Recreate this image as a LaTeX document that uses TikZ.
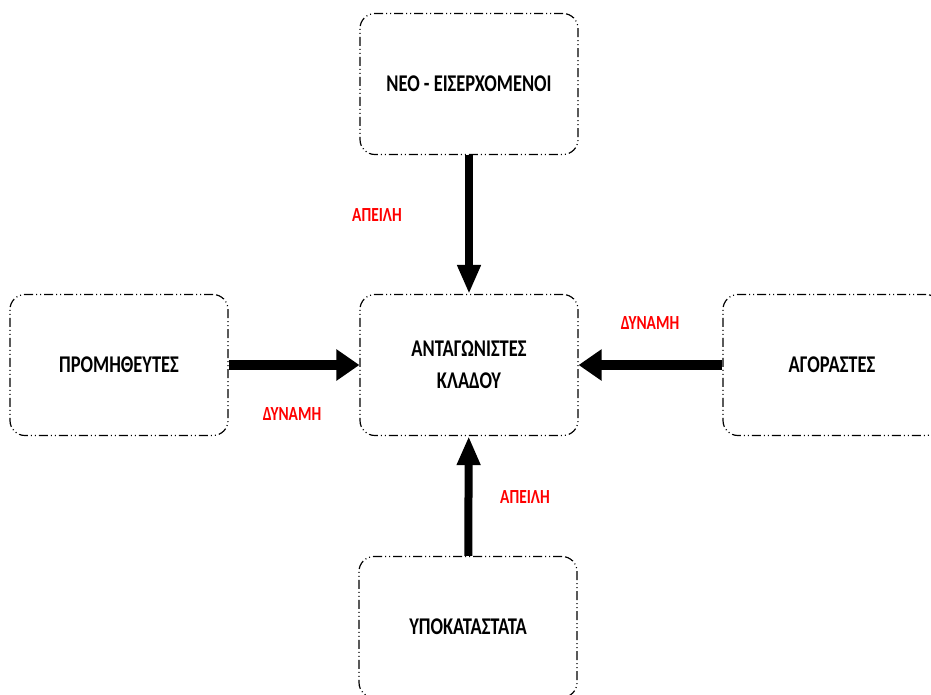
\documentclass[tikz,border=0pt]{standalone}
\usepackage{fontspec}
\setmainfont{Carlito}[FakeStretch=0.77]
\usetikzlibrary{arrows.meta}

\begin{document}
\begin{tikzpicture}[x=1pt,y=-1pt,
    box/.style={draw=black, line width=1.2pt, rounded corners=15pt,
        dash pattern=on 9pt off 3pt on 1pt off 3pt on 1pt off 3pt,
        minimum width=218pt, minimum height=141pt, inner sep=0pt,
        align=center, font=\bfseries\fontsize{24}{32}\selectfont},
    redtag/.style={text=red, font=\bfseries\fontsize{20}{22}\selectfont},
    vpush/.style={line width=8pt, -{Triangle[length=29pt,width=22pt]}},
    hpush/.style={line width=10pt, -{Triangle[length=23pt,width=30pt]}}]
        \useasboundingbox (0,0) rectangle (931,694);

        \node[box] (NEW) at (469,84) {ΝΕΟ - ΕΙΣΕΡΧΟΜΕΝΟΙ};
        \node[box] (RIV) at (469,365) {ΑΝΤΑΓΩΝΙΣΤΕΣ\\ΚΛΑΔΟΥ};
        \node[box] (SUP) at (119,365) {ΠΡΟΜΗΘΕΥΤΕΣ};
        \node[box] (BUY) at (832,365) {ΑΓΟΡΑΣΤΕΣ};
        \node[box] (SUB) at (468,627) {ΥΠΟΚΑΤΑΣΤΑΤΑ};

        \node[redtag] (T1) at (377,215) {ΑΠΕΙΛΗ};
        \node[redtag] (T2) at (525,497) {ΑΠΕΙΛΗ};
        \node[redtag] (P1) at (292,414) {ΔΥΝΑΜΗ};
        \node[redtag] (P2) at (650,323) {ΔΥΝΑΜΗ};

        \draw[vpush] (NEW) -- (RIV);
        \draw[vpush] (SUB) -- (RIV);
        \draw[hpush] (SUP) -- (RIV);
        \draw[hpush] (BUY) -- (RIV);
    \end{tikzpicture}
\end{document}
